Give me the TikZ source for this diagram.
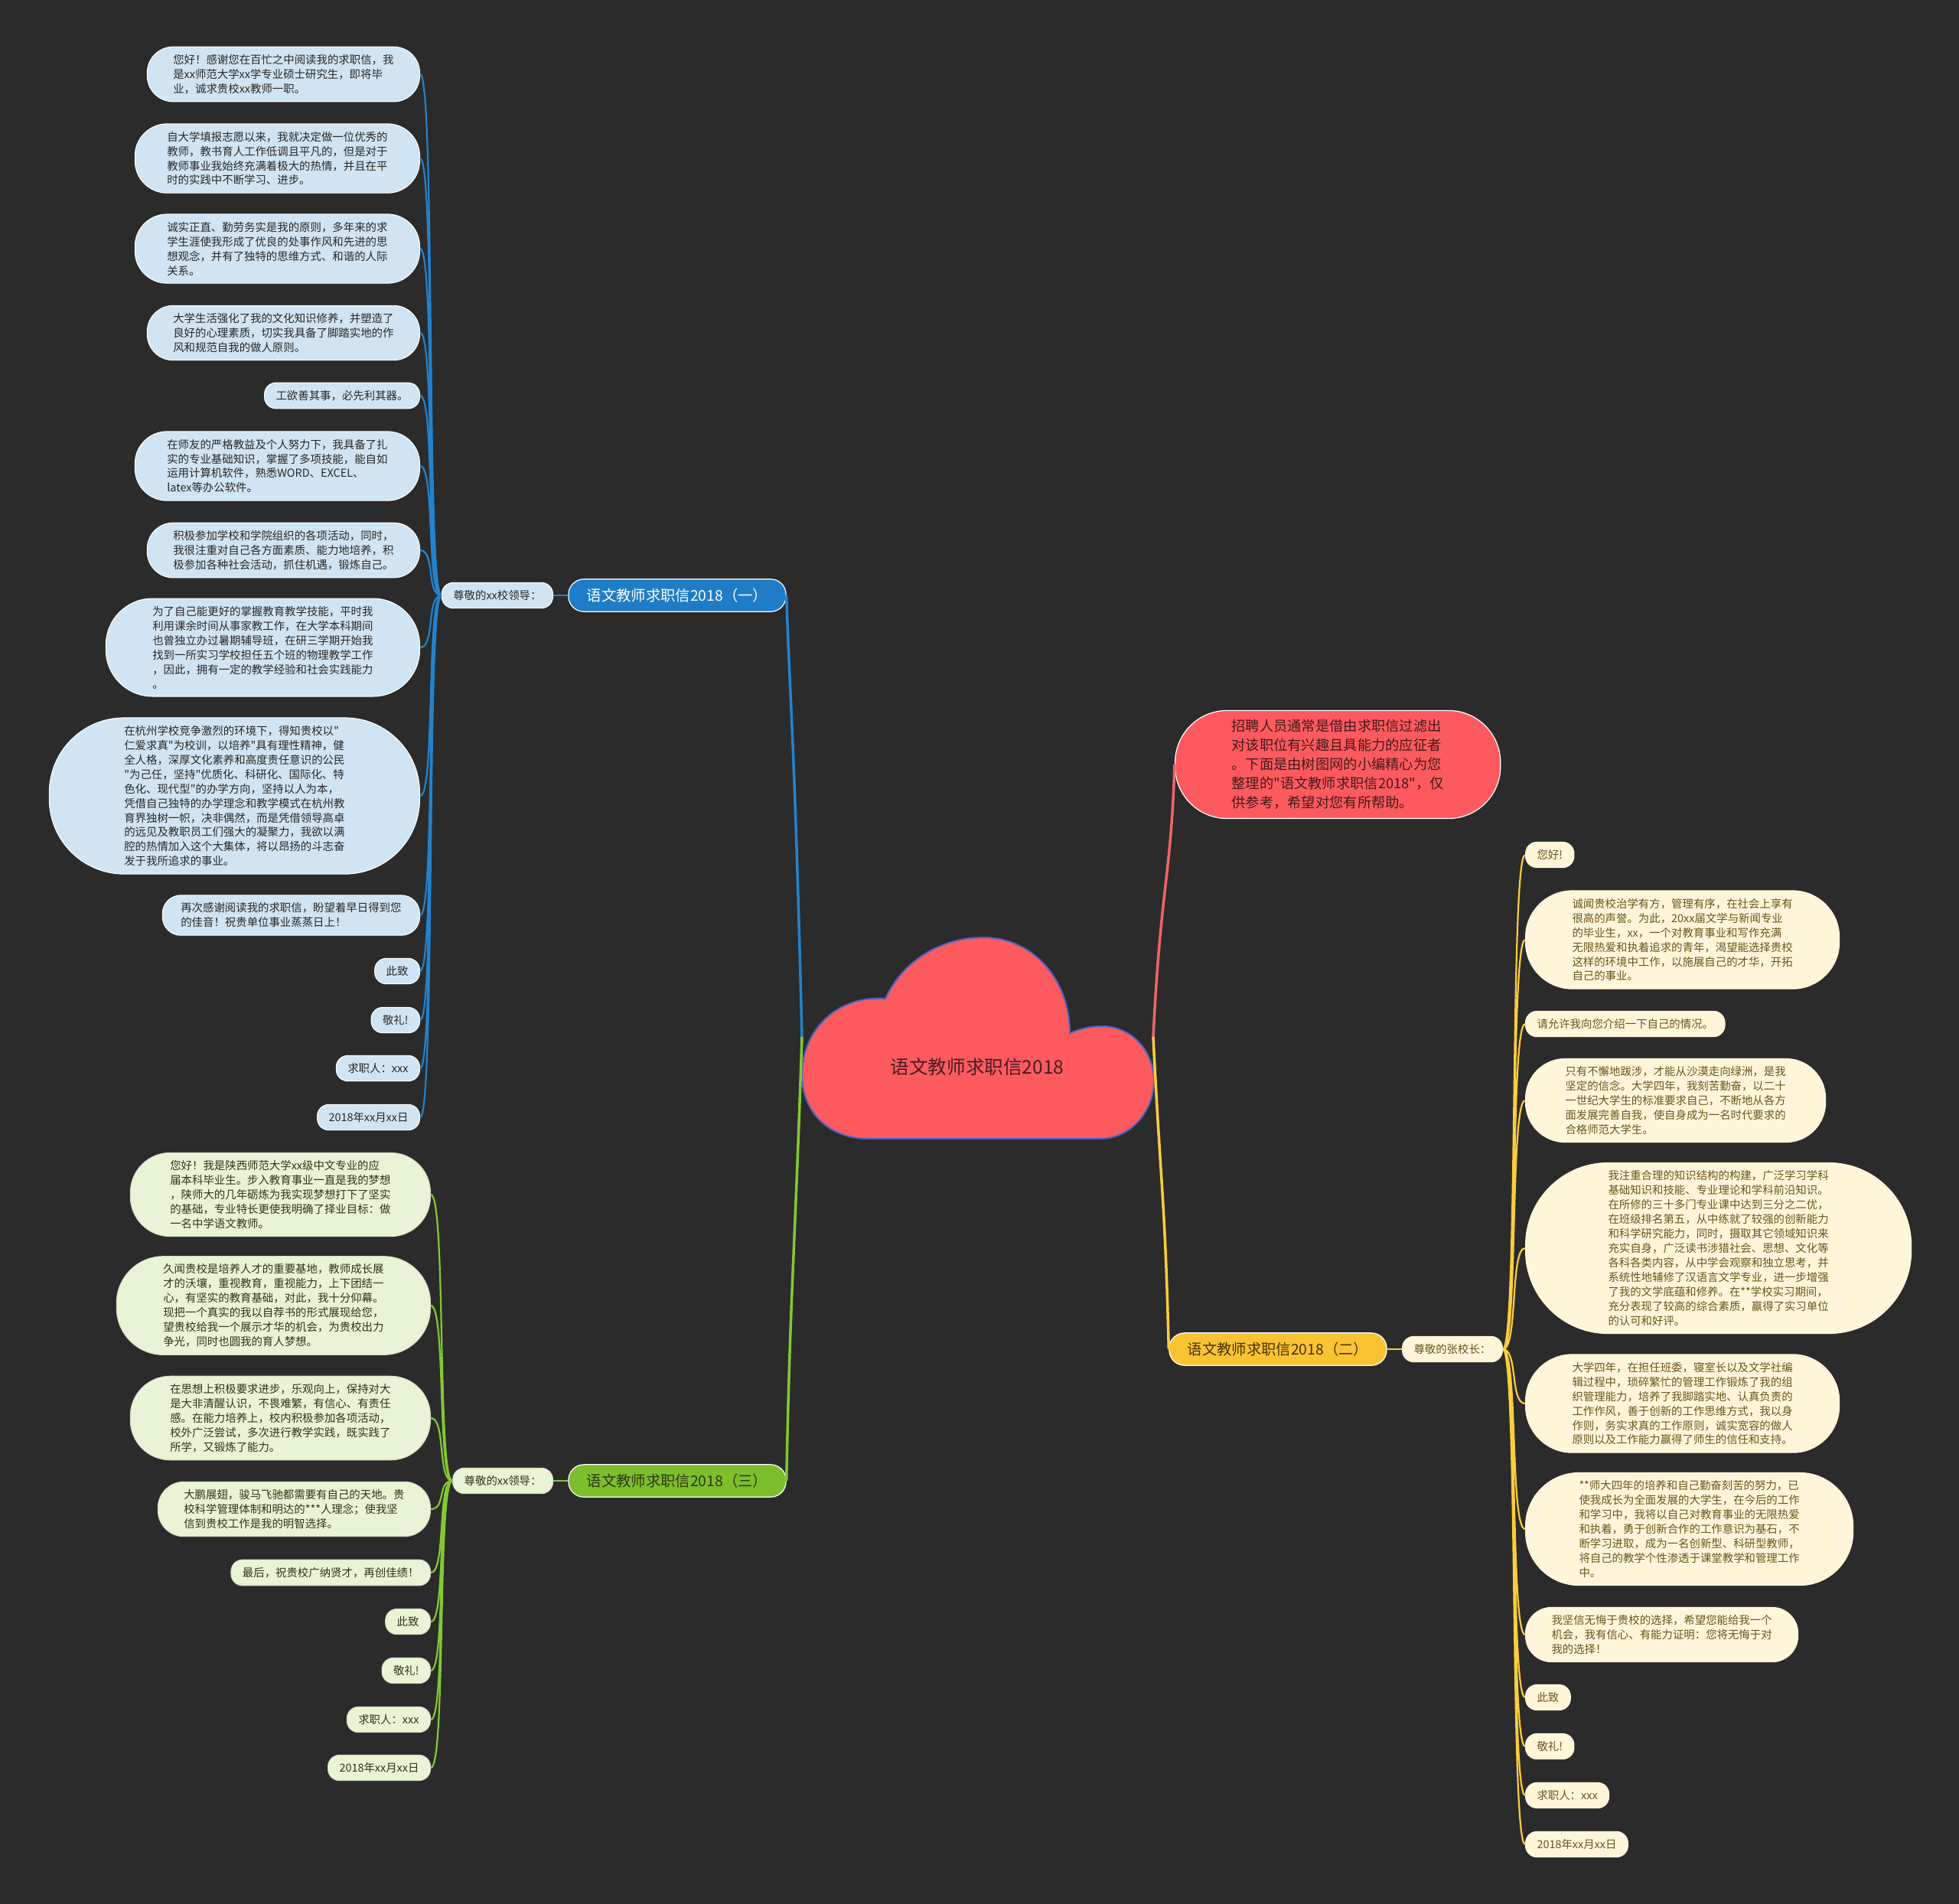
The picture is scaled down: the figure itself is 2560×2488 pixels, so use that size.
\documentclass[tikz,border=0pt]{standalone}
\usepackage{fontspec}
\setmainfont{Noto Sans CJK SC}[Ligatures=TeXOff]
\usepackage{tikz}
\usepackage{xcolor}
\definecolor{bgdark}{RGB}{43,43,43}
\definecolor{rootred}{RGB}{252,90,95}
\definecolor{rootedge}{RGB}{75,100,195}
\definecolor{rootink}{RGB}{70,30,35}
\definecolor{noteink}{RGB}{70,25,25}
\definecolor{notelink}{RGB}{240,100,105}
\definecolor{mainblue}{RGB}{30,125,198}
\definecolor{linkblue}{RGB}{35,130,205}
\definecolor{softblue}{RGB}{208,228,243}
\definecolor{maingreen}{RGB}{125,190,45}
\definecolor{linkgreen}{RGB}{130,200,50}
\definecolor{softgreen}{RGB}{233,243,213}
\definecolor{deepgreen}{RGB}{45,55,20}
\definecolor{mainyellow}{RGB}{250,195,50}
\definecolor{linkyellow}{RGB}{250,205,60}
\definecolor{softyellow}{RGB}{255,246,218}
\definecolor{deepbrown}{RGB}{70,50,10}
\definecolor{leafbrown}{RGB}{105,85,25}
\definecolor{leafink}{RGB}{40,40,40}
\tikzset{
  roundend/.style={rounded corners=#1,inner xsep=#1},
  mmroot/.style={font=\fontsize{7pt}{8pt}\selectfont,text=rootink},
  mmnote/.style={rectangle,rounded corners=6.8mm,draw=white,line width=0.12mm,fill=rootred,text=noteink,align=left,
    inner xsep=7.4mm,inner ysep=1.2mm,font=\fontsize{5.2pt}{7.1pt}\selectfont},
  mmmain/.style={rectangle,rounded corners=2mm,draw=white,line width=0.12mm,inner xsep=2.4mm,inner ysep=1.2mm,
    font=\fontsize{5.5pt}{6.5pt}\selectfont},
  mmmainb/.style={mmmain,fill=mainblue,text=white},
  mmmaing/.style={mmmain,fill=maingreen,text=deepgreen},
  mmmainy/.style={mmmain,fill=mainyellow,text=deepbrown},
  mmleaf/.style={rectangle,align=left,roundend=1.5mm,inner ysep=1mm,line width=0.1mm,
    font=\fontsize{4.1pt}{5.4pt}\selectfont},
  mmleafb/.style={mmleaf,draw=white,fill=softblue,text=leafink},
  mmleafg/.style={mmleaf,draw=softgreen!80!gray,fill=softgreen,text=deepgreen},
  mmleafy/.style={mmleaf,draw=softyellow,fill=softyellow,text=leafbrown},
  rootlink/.style={line width=0.35mm},
  leaflink/.style={line width=0.22mm},
  toleft/.style={to path={.. controls +(-20,0) and +(20,0) .. (\tikztotarget)}},
  toright/.style={to path={.. controls +(20,0) and +(-20,0) .. (\tikztotarget)}}
}

\begin{document}
\begin{tikzpicture}[x=0.1mm,y=-0.1mm]
  \fill[bgdark] (0,0) rectangle (2560,2488);
  \useasboundingbox (0,0) rectangle (2560,2488);
  \filldraw[fill=rootred,draw=rootedge,line width=0.2mm] (1135,1488) .. controls (1080,1488) and (1048,1450) .. (1048,1405)
    .. controls (1048,1345) and (1095,1300) .. (1157,1305) .. controls (1180,1255) and (1230,1225) .. (1285,1225)
    .. controls (1350,1225) and (1398,1280) .. (1398,1350) .. controls (1415,1343) and (1428,1341) .. (1440,1341)
    .. controls (1480,1341) and (1508,1375) .. (1508,1412) .. controls (1508,1452) and (1478,1488) .. (1437,1488) -- cycle;
  \node[mmroot] (root) at (1277,1394) {语文教师求职信2018};
  \coordinate (root-l) at (1048,1355); \coordinate (root-r) at (1507,1355);

  \node[mmnote,anchor=west] (note) at (1535,999) {招聘人员通常是借由求职信过滤出\\对该职位有兴趣且具能力的应征者\\。下面是由树图网的小编精心为您\\整理的"语文教师求职信2018"，仅\\供参考，希望对您有所帮助。};

  \node[mmmainb] (b1) at (885,778) {语文教师求职信2018（一）};
  \node[mmleafb,anchor=east] (s1) at (723,778) {尊敬的xx校领导：};
  \node[mmmaing] (b3) at (885,1935) {语文教师求职信2018（三）};
  \node[mmleafg,anchor=east] (s3) at (723,1935) {尊敬的xx领导：};
  \node[mmmainy] (b2) at (1670,1763) {语文教师求职信2018（二）};
  \node[mmleafy,anchor=west] (s2) at (1832,1763) {尊敬的张校长：};

  \node[mmleafb,roundend=3.4mm,anchor=east] (bl1) at (549,97) {您好！感谢您在百忙之中阅读我的求职信，我\\是xx师范大学xx学专业硕士研究生，即将毕\\业，诚求贵校xx教师一职。};
  \node[mmleafb,roundend=4.2mm,anchor=east] (bl2) at (549,207) {自大学填报志愿以来，我就决定做一位优秀的\\教师，教书育人工作低调且平凡的，但是对于\\教师事业我始终充满着极大的热情，并且在平\\时的实践中不断学习、进步。};
  \node[mmleafb,roundend=4.2mm,anchor=east] (bl3) at (549,325) {诚实正直、勤劳务实是我的原则，多年来的求\\学生涯使我形成了优良的处事作风和先进的思\\想观念，并有了独特的思维方式、和谐的人际\\关系。};
  \node[mmleafb,roundend=3.4mm,anchor=east] (bl4) at (549,435) {大学生活强化了我的文化知识修养，并塑造了\\良好的心理素质，切实我具备了脚踏实地的作\\风和规范自我的做人原则。};
  \node[mmleafb,anchor=east] (bl5) at (549,517) {工欲善其事，必先利其器。};
  \node[mmleafb,roundend=4.2mm,anchor=east] (bl6) at (549,609) {在师友的严格教益及个人努力下，我具备了扎\\实的专业基础知识，掌握了多项技能，能自如\\运用计算机软件，熟悉WORD、EXCEL、\\latex等办公软件。};
  \node[mmleafb,roundend=3.4mm,anchor=east] (bl7) at (549,719) {积极参加学校和学院组织的各项活动，同时，\\我很注重对自己各方面素质、能力地培养，积\\极参加各种社会活动，抓住机遇，锻炼自己。};
  \node[mmleafb,roundend=6.1mm,anchor=east] (bl8) at (549,846) {为了自己能更好的掌握教育教学技能，平时我\\利用课余时间从事家教工作，在大学本科期间\\也曾独立办过暑期辅导班，在研三学期开始我\\找到一所实习学校担任五个班的物理教学工作\\，因此，拥有一定的教学经验和社会实践能力\\。};
  \node[mmleafb,roundend=9.8mm,anchor=east] (bl9) at (549,1040) {在杭州学校竞争激烈的环境下，得知贵校以"\\仁爱求真"为校训，以培养"具有理性精神，健\\全人格，深厚文化素养和高度责任意识的公民\\"为己任，坚持"优质化、科研化、国际化、特\\色化、现代型"的办学方向，坚持以人为本，\\凭借自己独特的办学理念和教学模式在杭州教\\育界独树一帜，决非偶然，而是凭借领导高卓\\的远见及教职员工们强大的凝聚力，我欲以满\\腔的热情加入这个大集体，将以昂扬的斗志奋\\发于我所追求的事业。};
  \node[mmleafb,roundend=2.4mm,anchor=east] (bl10) at (549,1196) {再次感谢阅读我的求职信，盼望着早日得到您\\的佳音！祝贵单位事业蒸蒸日上！};
  \node[mmleafb,anchor=east] (bl11) at (549,1269) {此致};
  \node[mmleafb,anchor=east] (bl12) at (549,1333) {敬礼!};
  \node[mmleafb,anchor=east] (bl13) at (549,1396) {求职人：xxx};
  \node[mmleafb,anchor=east] (bl14) at (549,1460) {2018年xx月xx日};

  \node[mmleafg,roundend=5.2mm,anchor=east] (gl1) at (563,1561) {您好！我是陕西师范大学xx级中文专业的应\\届本科毕业生。步入教育事业一直是我的梦想\\，陕师大的几年砺炼为我实现梦想打下了坚实\\的基础，专业特长更使我明确了择业目标：做\\一名中学语文教师。};
  \node[mmleafg,roundend=6.1mm,anchor=east] (gl2) at (563,1706) {久闻贵校是培养人才的重要基地，教师成长展\\才的沃壤，重视教育，重视能力，上下团结一\\心，有坚实的教育基础，对此，我十分仰幕。\\现把一个真实的我以自荐书的形式展现给您，\\望贵校给我一个展示才华的机会，为贵校出力\\争光，同时也圆我的育人梦想。};
  \node[mmleafg,roundend=5.2mm,anchor=east] (gl3) at (563,1853) {在思想上积极要求进步，乐观向上，保持对大\\是大非清醒认识，不畏难繁，有信心、有责任\\感。在能力培养上，校内积极参加各项活动，\\校外广泛尝试，多次进行教学实践，既实践了\\所学，又锻炼了能力。};
  \node[mmleafg,roundend=3.4mm,anchor=east] (gl4) at (563,1972) {大鹏展翅，骏马飞驰都需要有自己的天地。贵\\校科学管理体制和明达的***人理念；使我坚\\信到贵校工作是我的明智选择。};
  \node[mmleafg,anchor=east] (gl5) at (563,2055) {最后，祝贵校广纳贤才，再创佳绩！};
  \node[mmleafg,anchor=east] (gl6) at (563,2119) {此致};
  \node[mmleafg,anchor=east] (gl7) at (563,2183) {敬礼!};
  \node[mmleafg,anchor=east] (gl8) at (563,2247) {求职人：xxx};
  \node[mmleafg,anchor=east] (gl9) at (563,2310) {2018年xx月xx日};

  \node[mmleafy,anchor=west] (yl1) at (1993,1117) {您好!};
  \node[mmleafy,roundend=6.1mm,anchor=west] (yl2) at (1993,1228) {诚闻贵校治学有方，管理有序，在社会上享有\\很高的声誉。为此，20xx届文学与新闻专业\\的毕业生，xx，一个对教育事业和写作充满\\无限热爱和执着追求的青年，渴望能选择贵校\\这样的环境中工作，以施展自己的才华，开拓\\自己的事业。};
  \node[mmleafy,anchor=west] (yl3) at (1993,1338) {请允许我向您介绍一下自己的情况。};
  \node[mmleafy,roundend=5.2mm,anchor=west] (yl4) at (1993,1438) {只有不懈地跋涉，才能从沙漠走向绿洲，是我\\坚定的信念。大学四年，我刻苦勤奋，以二十\\一世纪大学生的标准要求自己，不断地从各方\\面发展完善自我，使自身成为一名时代要求的\\合格师范大学生。};
  \node[mmleafy,roundend=10.8mm,anchor=west] (yl5) at (1993,1631) {我注重合理的知识结构的构建，广泛学习学科\\基础知识和技能、专业理论和学科前沿知识。\\在所修的三十多门专业课中达到三分之二优，\\在班级排名第五，从中练就了较强的创新能力\\和科学研究能力，同时，摄取其它领域知识来\\充实自身，广泛读书涉猎社会、思想、文化等\\各科各类内容，从中学会观察和独立思考，并\\系统性地辅修了汉语言文学专业，进一步增强\\了我的文学底蕴和修养。在**学校实习期间，\\充分表现了较高的综合素质，赢得了实习单位\\的认可和好评。};
  \node[mmleafy,roundend=6.1mm,anchor=west] (yl6) at (1993,1834) {大学四年，在担任班委，寝室长以及文学社编\\辑过程中，琐碎繁忙的管理工作锻炼了我的组\\织管理能力，培养了我脚踏实地、认真负责的\\工作作风，善于创新的工作思维方式，我以身\\作则，务实求真的工作原则，诚实宽容的做人\\原则以及工作能力赢得了师生的信任和支持。};
  \node[mmleafy,roundend=7mm,anchor=west] (yl7) at (1993,1998) {**师大四年的培养和自己勤奋刻苦的努力，已\\使我成长为全面发展的大学生，在今后的工作\\和学习中，我将以自己对教育事业的无限热爱\\和执着，勇于创新合作的工作意识为基石，不\\断学习进取，成为一名创新型、科研型教师，\\将自己的教学个性渗透于课堂教学和管理工作\\中。};
  \node[mmleafy,roundend=3.4mm,anchor=west] (yl8) at (1993,2136) {我坚信无悔于贵校的选择，希望您能给我一个\\机会，我有信心、有能力证明：您将无悔于对\\我的选择！};
  \node[mmleafy,anchor=west] (yl9) at (1993,2218) {此致};
  \node[mmleafy,anchor=west] (yl10) at (1993,2282) {敬礼!};
  \node[mmleafy,anchor=west] (yl11) at (1993,2346) {求职人：xxx};
  \node[mmleafy,anchor=west] (yl12) at (1993,2410) {2018年xx月xx日};

  \draw[rootlink,linkblue] (root-l) .. controls +(-10,-400) and +(5,150) .. (b1.east);
  \draw[rootlink,linkgreen] (root-l) .. controls +(-10,300) and +(5,-250) .. (b3.east);
  \draw[rootlink,notelink] (root-r) .. controls +(10,-200) and +(-5,150) .. (note.west);
  \draw[rootlink,linkyellow] (root-r) .. controls +(10,200) and +(-5,-200) .. (b2.west);
  \draw[leaflink,linkblue] (b1.west) -- (s1.east); \draw[leaflink,linkgreen] (b3.west) -- (s3.east);
  \draw[leaflink,linkyellow] (b2.east) -- (s2.west);

  \draw[leaflink,linkblue,toleft] (s1.west) to (bl1.east) (s1.west) to (bl2.east) (s1.west) to (bl3.east)
    (s1.west) to (bl4.east) (s1.west) to (bl5.east) (s1.west) to (bl6.east) (s1.west) to (bl7.east)
    (s1.west) to (bl8.east) (s1.west) to (bl9.east) (s1.west) to (bl10.east) (s1.west) to (bl11.east)
    (s1.west) to (bl12.east) (s1.west) to (bl13.east) (s1.west) to (bl14.east);
  \draw[leaflink,linkgreen,toleft] (s3.west) to (gl1.east) (s3.west) to (gl2.east) (s3.west) to (gl3.east)
    (s3.west) to (gl4.east) (s3.west) to (gl5.east) (s3.west) to (gl6.east) (s3.west) to (gl7.east)
    (s3.west) to (gl8.east) (s3.west) to (gl9.east);
  \draw[leaflink,linkyellow,toright] (s2.east) to (yl1.west) (s2.east) to (yl2.west) (s2.east) to (yl3.west)
    (s2.east) to (yl4.west) (s2.east) to (yl5.west) (s2.east) to (yl6.west) (s2.east) to (yl7.west)
    (s2.east) to (yl8.west) (s2.east) to (yl9.west) (s2.east) to (yl10.west) (s2.east) to (yl11.west)
    (s2.east) to (yl12.west);
\end{tikzpicture}
\end{document}
